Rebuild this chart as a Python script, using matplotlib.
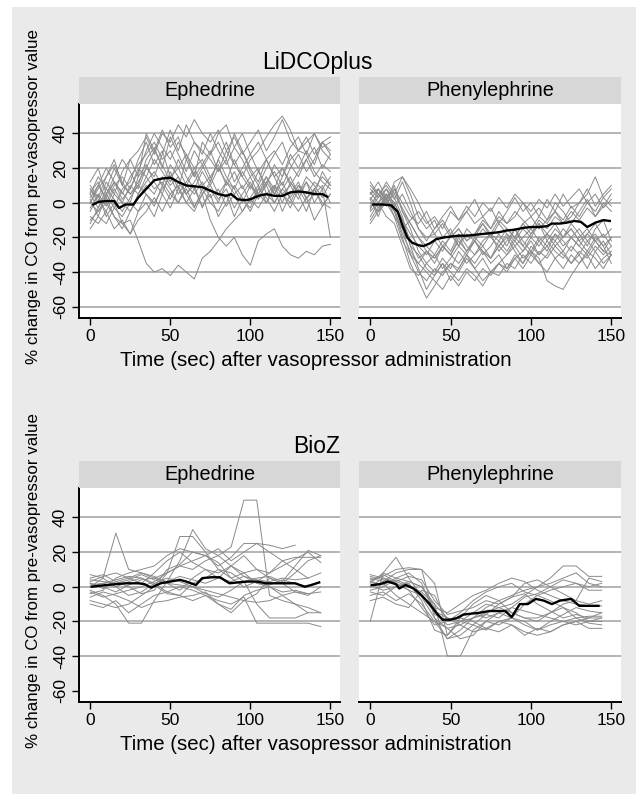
import matplotlib
matplotlib.use("Agg")
import matplotlib.pyplot as plt
from matplotlib.patches import Rectangle

plt.rcParams['font.family'] = ['Liberation Sans', 'DejaVu Sans']
plt.rcParams['axes.unicode_minus'] = False

# ---- data ----
lidco_t = [0, 5, 10, 15, 20, 25, 30, 35, 40, 45, 50, 55, 60, 65, 70, 75,
           80, 85, 90, 95, 100, 105, 110, 115, 120, 125, 130, 135, 140, 145, 150]

lidco_eph_traces = [
    [5, 15, 8, 20, 10, 25, 30, 38, 28, 40, 35, 45, 38, 48, 40, 35, 42, 30, 38, 28, 35, 42, 30, 38, 48, 36, 30, 38, 28, 35, 38],
    [0, -5, 3, -8, -12, -10, -22, -35, -40, -38, -42, -36, -40, -44, -32, -28, -22, -15, -10, -5, 2, -3, 5, 0, 8, 3, 10, 5, 12, 8, 15],
    [8, 2, -5, 5, 0, 10, 5, 15, 8, 12, 5, 0, 8, -2, 5, -10, -20, -25, -20, -30, -36, -22, -18, -15, -25, -30, -32, -28, -30, -25, -24],
    [-10, -5, 0, -8, -15, -5, 5, 12, 18, 10, 22, 15, 5, 10, -3, 8, 0, 12, 5, -5, 3, 10, 0, 8, -5, 5, 12, 2, 8, 15, 10],
    [3, 10, 20, 12, 5, 15, 22, 28, 35, 25, 30, 20, 28, 15, 22, 30, 18, 25, 12, 20, 28, 18, 25, 15, 20, 10, 18, 25, 15, 22, 18],
    [-5, 5, -2, 8, 0, -5, 3, 10, 5, 15, 8, 0, 10, 5, 12, 3, 8, -2, 5, 10, 0, 8, 3, -5, 5, 0, 10, 3, 8, -2, 5],
    [8, 0, 12, 5, 18, 25, 15, 40, 30, 42, 32, 38, 25, 35, 28, 40, 30, 22, 32, 40, 28, 35, 25, 30, 22, 32, 38, 28, 40, 32, 35],
    [-8, -12, -5, -15, -10, -18, -5, 0, -8, 5, -3, 8, 0, -5, 5, 10, 2, 8, -3, 5, 12, 3, 10, 0, 8, 15, 5, 12, 0, 8, -20],
    [0, 8, 15, 25, 10, 5, 12, 20, 15, 28, 42, 30, 45, 35, 30, 25, 18, 30, 22, 15, 25, 30, 38, 45, 50, 42, 30, 28, 18, 12, 8],
    [5, -3, 8, 2, -5, 3, 10, 5, 0, 8, 15, 5, 12, 20, 10, 15, 5, 12, 8, 0, 10, 5, 15, 8, 20, 12, 5, 15, 10, 3, 12],
    [12, 20, 5, 15, 25, 18, 8, 20, 30, 22, 12, 25, 15, 8, 18, 10, 20, 12, 25, 15, 8, 18, 10, 22, 15, 28, 20, 30, 22, 35, 28],
    [-3, 5, -8, 0, -12, -18, -10, -5, 3, -5, 5, 10, 0, 8, -2, 5, -8, 0, 10, 3, -5, 5, 0, 10, 5, -3, 8, 0, 5, 10, 0],
    [2, -8, 5, -3, 8, 12, 25, 35, 22, 30, 15, 20, 10, 18, 5, 12, 25, 15, 8, 18, 10, 2, 12, 5, 15, 25, 30, 35, 40, 30, 25],
    [0, 10, 3, 12, 6, 0, 15, 22, 12, 5, 18, 8, 25, 15, 35, 28, 40, 45, 32, 25, 15, 20, 5, 10, 0, 12, 5, -5, 8, 0, -3],
    [-12, -3, 5, 12, 2, 8, 18, 30, 40, 32, 25, 35, 28, 20, 25, 15, 22, 10, 18, 8, 15, 5, 12, 18, 10, 20, 28, 18, 25, 35, 30],
    [6, 12, 0, 10, 15, 8, 20, 15, 25, 18, 10, 15, 5, 12, 20, 28, 35, 25, 40, 30, 20, 12, 25, 15, 5, 10, 2, 12, 5, 18, 10],
    [-15, -8, -12, -3, -8, 0, -5, 5, -2, 10, 2, 12, 5, -3, 8, 0, -5, 5, -8, 2, -3, 8, 15, 5, 12, 2, -5, 3, -10, -2, 5],
    [10, 3, 15, 22, 12, 5, 10, 25, 32, 20, 38, 28, 18, 30, 22, 12, 25, 35, 22, 30, 18, 10, 20, 28, 35, 22, 15, 25, 32, 20, 28],
]
lidco_eph_mean_t = [2, 5, 10, 15, 18, 22, 27, 30, 35, 40, 45, 50, 55, 60, 65, 70, 75,
                    80, 85, 88, 92, 97, 100, 105, 110, 115, 120, 125, 130, 135, 140, 145, 148]
lidco_eph_mean = [-1, 0.5, 1, 1, -3, -1, -1, 3, 8, 13, 14, 14.5, 12, 10, 9.5, 9, 7,
                  5, 4, 5, 2, 1.5, 2, 4, 5, 4, 4, 6, 6.5, 6, 5, 5, 3.5]

lidco_phe_traces = [
    [5, 8, 2, -5, -20, -35, -45, -55, -48, -40, -35, -38, -30, -35, -28, -32, -25, -30, -22, -28, -20, -25, -18, -22, -15, -20, -25, -18, -22, -28, -30],
    [-2, 5, 10, 3, -8, -25, -30, -38, -42, -35, -40, -45, -38, -42, -48, -40, -35, -38, -30, -35, -28, -32, -45, -48, -50, -42, -35, -30, -38, -32, -28],
    [0, -5, 3, -8, -15, -10, -5, -12, -8, -15, -5, -10, -2, -8, 0, -5, 3, -3, 5, 0, -5, 2, -3, 5, -2, 3, 8, 0, 5, -3, 2],
    [8, 3, 12, 5, 15, 8, 0, -10, -18, -12, -20, -15, -22, -18, -10, -15, -8, -12, -5, -10, -15, -8, -12, -5, -10, -2, -8, 0, -5, 3, -2],
    [-5, 0, -8, -12, -25, -38, -42, -35, -40, -32, -38, -28, -35, -30, -25, -32, -22, -28, -20, -25, -30, -22, -28, -18, -25, -20, -15, -22, -18, -25, -20],
    [3, -3, 5, 0, -10, -18, -25, -30, -22, -28, -18, -25, -15, -20, -12, -18, -10, -15, -20, -12, -8, -15, -10, -5, -12, -8, 0, 5, 15, 3, 8],
    [10, 5, 0, 12, 15, 5, -8, -15, -10, -20, -15, -25, -18, -22, -15, -20, -12, -18, -25, -20, -15, -22, -18, -12, -20, -15, -22, -28, -20, -25, -35],
    [-10, -3, 2, -5, -15, -30, -40, -45, -38, -42, -35, -40, -32, -38, -45, -40, -42, -35, -38, -30, -35, -28, -32, -25, -30, -35, -28, -32, -25, -30, -25],
    [2, 8, 0, 5, -3, -12, -20, -28, -32, -25, -30, -22, -28, -20, -25, -18, -22, -15, -20, -12, -18, -10, -15, -8, -12, -5, -10, -3, -8, 0, -5],
    [-8, 0, 5, -3, -18, -28, -35, -40, -45, -50, -42, -48, -40, -45, -38, -42, -35, -40, -32, -38, -30, -35, -40, -32, -38, -30, -35, -28, -32, -38, -30],
    [5, 12, 3, 8, 0, -8, -12, -5, -15, -8, -2, -10, -5, 2, -8, -3, -12, -5, 3, -5, 0, -8, 2, -5, 5, -3, 0, 8, -2, 5, 10],
    [0, -5, 5, -3, -10, -22, -32, -28, -35, -25, -30, -20, -28, -22, -30, -25, -18, -25, -15, -22, -28, -20, -25, -18, -22, -28, -20, -15, -22, -18, -25],
    [-3, 3, 8, -2, 5, -5, -15, -20, -18, -25, -20, -15, -22, -18, -12, -20, -25, -18, -22, -15, -20, -12, -18, -25, -20, -15, -22, -18, -12, -20, -15],
    [12, 5, -2, 8, -5, -15, -28, -35, -30, -38, -32, -25, -30, -22, -28, -35, -30, -38, -32, -28, -22, -30, -25, -32, -28, -20, -25, -30, -22, -28, -20],
    [-12, -5, 0, -8, -22, -30, -35, -28, -32, -25, -30, -35, -28, -22, -28, -32, -25, -20, -28, -35, -25, -30, -22, -28, -32, -25, -30, -22, -28, -35, -30],
    [6, 0, 8, 2, 12, 0, -15, -22, -15, -10, -18, -12, -5, -12, -8, -15, -5, -12, -8, 0, -8, -3, -10, 0, -5, -12, -5, 2, -8, -2, 5],
    [-4, 8, 2, 10, -5, -12, -20, -25, -30, -22, -28, -18, -25, -30, -22, -18, -28, -22, -15, -25, -18, -12, -22, -15, -20, -12, -18, -25, -15, -10, -22],
    [2, -8, 5, 0, -10, -25, -38, -50, -42, -35, -45, -38, -30, -38, -32, -40, -35, -30, -25, -32, -28, -35, -30, -22, -28, -35, -30, -38, -28, -22, -30],
]
lidco_phe_mean_t = [2, 8, 13, 17, 20, 23, 26, 30, 33, 37, 41, 46, 50, 55, 60, 65, 70,
                    75, 80, 85, 90, 95, 100, 105, 110, 113, 118, 122, 127, 131, 135, 140, 145, 149]
lidco_phe_mean = [-1, -1, -1.5, -5, -13, -20, -23, -24.5, -25, -23.5, -21, -20, -19.5, -19, -19, -18.5, -18,
                  -17.5, -17, -16, -15.5, -14.5, -14, -14, -13.5, -12, -12, -11.5, -10.5, -11, -14, -11.5, -10, -10.5]

bioz_t = [0, 8, 16, 24, 32, 40, 48, 56, 64, 72, 80, 88, 96, 104, 112, 120, 128, 136, 144]

bioz_eph_traces = [
    [0, 5, 31, 10, 8, 5, 3, 6, 4, 2, 5, 3, 6, 2, 1, 4, 2, 0],
    [2, 0, -3, 1, 4, 5, 8, 12, 10, 15, 18, 23, 50, 50, -5, -8, -10, -12, -15],
    [-4, -2, 5, 8, 10, 12, 18, 22, 20, 18, 22, 15, 20, 25, 24, 22, 24],
    [-10, -12, -8, -15, -10, -5, -3, 0, -2, -5, -8, -10, -6, -21, -21, -21, -21, -21, -23],
    [5, 7, 3, 0, -4, -2, 8, 29, 29, 20, 10, 5, 8, 2, 0, -5, -10, -15, -15],
    [-2, -5, -10, -21, -21, -8, 3, 15, 33, 22, 18, 12, 8, 10, 5, 2, 8, 15, 18],
    [3, 6, 8, 5, 2, 8, 15, 20, 14, 10, 5, 12, 18, 10, 8, 15, 17, 17, 17],
    [-6, -3, -5, -8, -12, -9, -8, -6, -5, -3, -10, -13, -5, -2, 0, -3, -2, -4],
    [1, 2, 0, 3, 5, 2, -3, -5, 2, 5, 10, 8, 3, -10, -18, -18, -18, -15],
    [7, 5, 0, -5, -3, 2, 5, 3, 0, -4, -6, -2, 3, 5, 6, 3, 12, 21, 18],
    [-8, -10, -12, -10, -5, 0, 10, 13, 20, 18, 12, 17, 25, 25, 20, 15, 10, 5, 8],
    [4, 3, 2, 4, 7, 4, 2, 1, 0, -2, -4, -6, -8, -9, -8, -5, -3, -4, -3],
    [-3, -6, -4, -2, 0, 3, 8, 12, 15, 18, 14, 5, 0, 3, 8, 12, 16, 20, 14],
    [0, 2, 4, 6, 5, 1, -4, -5, -8, -5, -10, -15, -8, -4, 5, 2, -3, -5, 0],
    [2, -1, 3, 5, 8, 6, 2, -2, 5, 10, 8, 12, 6, 4, 3, 5, 4, 5],
]
bioz_eph_mean_t = [1, 5, 10, 16, 22, 30, 34, 38, 44, 50, 56, 60, 66, 70, 76, 81, 87,
                   92, 98, 104, 110, 116, 122, 128, 134, 138, 143]
bioz_eph_mean = [0, 0.5, 1, 1.5, 2, 2, 1.5, -0.5, 2, 3, 4, 3, 1, 5, 5.5, 5.5, 2,
                 2.5, 3, 3, 2, 2, 2, 2, 0, 1, 2.5]

bioz_phe_traces = [
    [2, 8, 17, 5, -5, -15, -22, -20, -18, -15, -12, -10, -5, 0, 5, 12, 12, 6, 6],
    [-20, 8, 5, 3, 0, -10, -40, -40, -25, -20, -22, -18, -20, -25, -22, -20, -18, -17, -17],
    [5, 3, 8, 10, 10, -18, -30, -28, -22, -25, -20, -18, -10, -5, -2, 0, 2, -2, -2],
    [-3, -5, 0, 2, -8, -25, -28, -20, -15, -10, -12, -15, -18, -20, -15, -10, -8, -10, -8],
    [6, 4, 2, -2, -12, -22, -20, -18, -20, -24, -26, -22, -28, -24, -26, -22, -20, -18, -15],
    [0, 2, -5, -10, -15, -20, -30, -25, -18, -12, -8, -5, -2, 0, 2, 5, 8, 2, 0],
    [3, 7, 3, 0, -3, -10, -18, -22, -26, -24, -20, -22, -26, -28, -26, -22, -20, -24, -24],
    [-8, -6, -10, -12, -2, -5, -20, -15, -8, -3, 0, 2, -3, -5, -8, -12, -15, -20, -20],
    [4, 6, 10, 11, 10, 2, -28, -18, -10, -5, -8, -15, -18, -18, -15, -12, -18, -21, -22],
    [1, -2, 0, 3, 0, -12, -15, -10, -5, -2, 2, 5, 3, -2, -5, -8, -10, -11, -11],
    [-2, 0, 4, 1, -6, -18, -24, -30, -28, -20, -15, -18, -22, -25, -20, -16, -12, -14, -15],
    [7, 5, 3, 6, 4, -8, -16, -14, -12, -8, -10, -6, -4, -10, -14, -18, -16, -18, -18],
    [-5, -3, -8, -4, -10, -20, -24, -22, -18, -16, -18, -12, -6, -4, 0, 4, 2, 0, 2],
    [3, 1, 5, 8, 2, -16, -20, -17, -15, -18, -15, -12, -14, -16, -18, -20, -22, -20, -18],
    [0, 5, 2, -2, -5, -14, -18, -20, -22, -16, -10, -6, 2, 4, 0, -4, -8, 5, 3],
]
bioz_phe_mean_t = [1, 6, 11, 16, 18, 22, 27, 32, 37, 42, 45, 50, 54, 58, 63, 68, 74,
                   80, 84, 88, 93, 98, 103, 108, 113, 118, 125, 130, 136, 142]
bioz_phe_mean = [1, 1.5, 3, 1.5, -1, 1, -1, -5, -10, -16, -19, -19, -18, -16, -15.5, -15, -14,
                 -14, -14, -17.5, -10, -10, -7, -8, -10, -8, -7, -11, -11, -11]

x_ticks = [0, 50, 100, 150]
y_ticks = [-60, -40, -20, 0, 20, 40]
panel_names = ["Ephedrine", "Phenylephrine"]
device_names = ["LiDCOplus", "BioZ"]

# ---- layout (pixels of a 636x794 canvas) ----
W, H = 636, 794
BG = '#eaeaea'
STRIP = '#d7d7d7'
GRID = '#a8a8a8'
TRACE = '#8a8a8a'

fig = plt.figure(figsize=(W / 100, H / 100), dpi=100, facecolor='white')
fig.patches.append(Rectangle((12 / W, 0), 1, 1 - 7 / H, transform=fig.transFigure,
                             facecolor=BG, edgecolor='none', zorder=-10))


def px_axes(x0, y0, x1, y1, **kw):
    return fig.add_axes([x0 / W, 1 - y1 / H, (x1 - x0) / W, (y1 - y0) / H], **kw)


def draw_panel(x0, x1, y_top, y_bot, t, traces, mean_t, mean_y, name, first, grid_vals):
    ax = px_axes(x0, y_top, x1, y_bot, facecolor='white')
    for g in grid_vals:
        ax.axhline(g, color=GRID, lw=1.2, zorder=1)
    for tr in traces:
        n = min(len(t), len(tr))
        ax.plot(t[:n], tr[:n], color=TRACE, lw=0.7, zorder=2)
    ax.plot(mean_t, mean_y, color='black', lw=1.7, zorder=3)
    ax.set_xlim(-7, 156)
    ax.set_ylim(-66.5, 57)
    ax.set_xticks(x_ticks)
    ax.set_yticks(y_ticks)
    ax.tick_params(axis='x', length=5, width=1, pad=3, labelsize=12.5, colors='black')
    for s in ['top', 'right']:
        ax.spines[s].set_visible(False)
    ax.spines['bottom'].set_linewidth(1.4)
    if first:
        ax.spines['left'].set_linewidth(1.4)
        ax.tick_params(axis='y', length=5, width=1, pad=3, labelsize=12.5)
        for lab in ax.get_yticklabels():
            lab.set_rotation(90)
            lab.set_va('center')
    else:
        ax.spines['left'].set_visible(False)
        ax.tick_params(axis='y', left=False, labelleft=False)

    strip = px_axes(x0, y_top - 27, x1, y_top, facecolor=STRIP)
    strip.set_xticks([])
    strip.set_yticks([])
    for s in strip.spines.values():
        s.set_visible(False)
    strip.text(0.5, 0.5, name, ha='center', va='center', fontsize=14.3,
               transform=strip.transAxes)
    return ax


sections = [
    (104, 318, device_names[0],
     [(lidco_t, lidco_eph_traces, lidco_eph_mean_t, lidco_eph_mean),
      (lidco_t, lidco_phe_traces, lidco_phe_mean_t, lidco_phe_mean)],
     [40, 20, 0, -20, -40, -60]),
    (488, 702, device_names[1],
     [(bioz_t, bioz_eph_traces, bioz_eph_mean_t, bioz_eph_mean),
      (bioz_t, bioz_phe_traces, bioz_phe_mean_t, bioz_phe_mean)],
     [40, 20, 0, -20, -40]),
]

x_spans = [(79, 340), (359, 621)]

for y_top, y_bot, title, panels, grid_vals in sections:
    for i, (t, traces, mt, my) in enumerate(panels):
        draw_panel(x_spans[i][0], x_spans[i][1], y_top, y_bot, t, traces, mt, my,
                   panel_names[i], i == 0, grid_vals)
    fig.text(317 / W, 1 - (y_top - 42) / H, title, ha='center', va='center', fontsize=16.5)
    fig.text(316 / W, 1 - (y_bot + 42) / H, "Time (sec) after vasopressor administration",
             ha='center', va='center', fontsize=14.7)
    fig.text(34 / W, 1 - (y_bot - 122) / H, "% change in CO from pre-vasopressor value",
             ha='center', va='center', rotation=90, fontsize=12.2)

fig.savefig("out.png", dpi=100, facecolor=fig.get_facecolor())
